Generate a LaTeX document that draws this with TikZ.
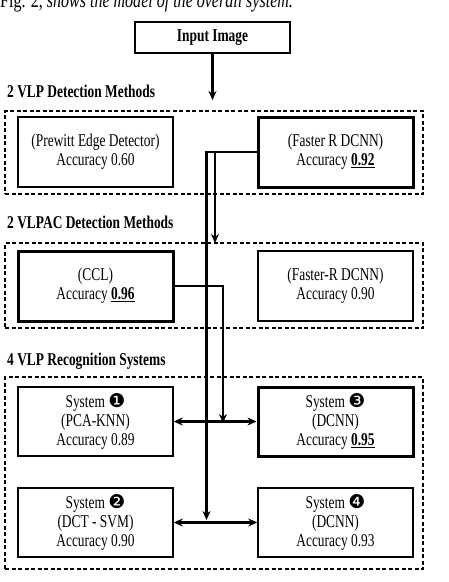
\documentclass[tikz,border=0pt]{standalone}
\usepackage{fontspec}
\setmainfont[FakeStretch=0.745]{Liberation Serif}
\newfontfamily\dingfont{DejaVu Sans}
\usetikzlibrary{shapes.geometric, arrows, arrows.meta}
\tikzstyle{method} = [rectangle, minimum width=155pt, minimum height=70pt, align=center, draw=black, line width=1.5pt, font=\fontsize{18}{18.7}\selectfont]
\tikzstyle{best} = [method, line width=3pt]
\tikzstyle{group} = [rectangle, draw=black, line width=1.2pt, dash pattern=on 4pt off 2.5pt, minimum width=418pt]
\tikzstyle{head} = [anchor=base west, inner sep=0pt, font=\fontsize{18}{18}\selectfont\bfseries]
\tikzstyle{arrow} = [line width=2.2pt,->,>={Stealth[length=9pt,width=8pt]}]
\tikzstyle{twoway} = [line width=2.2pt,<->,>={Stealth[length=9pt,width=8pt]}]
\newcommand{\sysno}[1]{{\dingfont\fontsize{19}{14}\selectfont #1}}

\begin{document}
\begin{tikzpicture}[x=1pt, y=-1pt]
    \useasboundingbox (0,0) rectangle (448,582);
    \node (caption) [anchor=base west, inner sep=0pt, font=\fontsize{21.5}{21}\selectfont] at (0,7) {Fig. 2, \textit{shows the model of the overall system.}};
    \node (input) [method, minimum height=31pt, font=\fontsize{18}{18.7}\selectfont\bfseries] at (212.5,37.5) {Input Image};
    % detection of the plate
    \node (h1) [head] at (7,97) {2 VLP Detection Methods};
    \node (grp1) [group, minimum height=83pt] at (214,152.5) {};
    \node (prewitt) [method] at (95.5,152) {(Prewitt Edge Detector)\\Accuracy 0.60};
    \node (fr1) [best] at (335.5,152) {(Faster R DCNN)\\Accuracy \underline{\textbf{0.92}}};
    % detection of the characters
    \node (h2) [head] at (7,228) {2 VLPAC Detection Methods};
    \node (grp2) [group, minimum height=85pt] at (214,285.5) {};
    \node (ccl) [best] at (95.5,286) {(CCL)\\Accuracy \underline{\textbf{0.96}}};
    \node (fr2) [method] at (335.5,286) {(Faster-R DCNN)\\Accuracy 0.90};
    % recognition
    \node (h3) [head] at (7,365) {4 VLP Recognition Systems};
    \node (grp3) [group, minimum height=192pt] at (214,473) {};
    \node (s1) [method, minimum height=69pt] at (95.5,421.5) {System \sysno{❶}\\(PCA-KNN)\\Accuracy 0.89};
    \node (s3) [best, minimum height=69pt] at (335.5,421.5) {System \sysno{❸}\\(DCNN)\\Accuracy \underline{\textbf{0.95}}};
    \node (s2) [method, minimum height=69pt] at (95.5,522.5) {System \sysno{❷}\\(DCT - SVM)\\Accuracy 0.90};
    \node (s4) [method, minimum height=69pt] at (335.5,522.5) {System \sysno{❹}\\(DCNN)\\Accuracy 0.93};
    \coordinate (t1) at (212.5,100);
    \coordinate (t2) at (215,243);
    \coordinate (t3) at (223,423);
    \coordinate (t4) at (206.5,520);
    \draw [arrow] (input) -- (t1);
    \draw [arrow] (fr1.west) -| (t2);
    \draw [arrow] (fr1.west) -| (t4);
    \draw [arrow] (ccl.east) -| (t3);
    \draw [twoway] (s1) -- (s3);
    \draw [twoway] (s2) -- (s4);
\end{tikzpicture}
\end{document}
